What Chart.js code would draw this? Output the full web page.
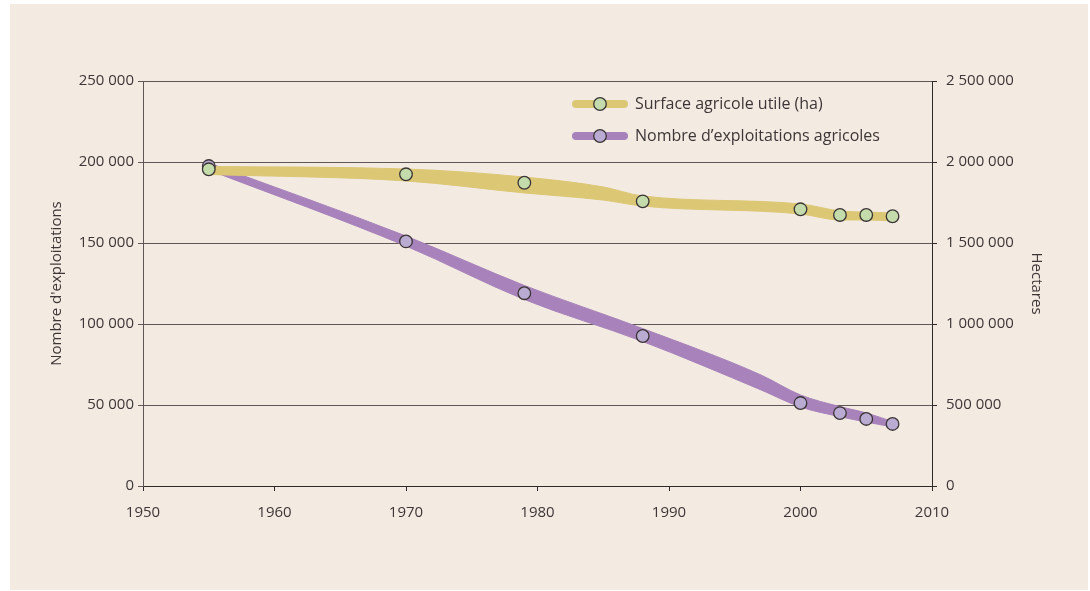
<!DOCTYPE html>
<html lang="fr">
<head>
<meta charset="utf-8">
<title>Exploitations agricoles et surface agricole utile</title>
<script src="https://cdn.jsdelivr.net/npm/chart.js@4/dist/chart.umd.min.js"></script>
<style>
  html, body { margin: 0; padding: 0; background: #ffffff; }
  #wrap { width: 1090px; height: 591px; }
</style>
</head>
<body>
<div id="wrap"><canvas id="c" width="1090" height="591"></canvas></div>
<script>
// Années de recensement
const years = [1955, 1970, 1979, 1988, 2000, 2003, 2005, 2007];
// Nombre d'exploitations agricoles (axe de gauche)
const exploitations = [197500, 151000, 119000, 92600, 51200, 45000, 41400, 38300];
// Surface agricole utile en hectares (axe de droite)
const surfaceHa = [1955000, 1924000, 1872000, 1757000, 1708000, 1673000, 1673000, 1665000];

// Bandes de tendance (bords haut et bas) tracées sous les points
const surfaceBandYears = [1955, 1970, 1979, 1985, 1988, 2000, 2003, 2005, 2007];
const surfaceBandTop = [1972000, 1957000, 1907000, 1846000, 1790000, 1741000, 1698000, 1691000, 1685000];
const surfaceBandBottom = [1923000, 1883000, 1809000, 1765000, 1728000, 1679000, 1642000, 1642000, 1636000];

const exploitBandYears = [1955, 1970, 1979, 1988, 1997, 2000, 2003, 2005, 2007];
const exploitBandTop = [199400, 154300, 123800, 97200, 68500, 56200, 49000, 45100, 39800];
const exploitBandBottom = [195100, 148100, 115100, 89200, 59300, 48800, 42800, 39500, 36400];

// Graduations
const xTicks = [1950, 1960, 1970, 1980, 1990, 2000, 2010];
const leftTicks = [0, 50000, 100000, 150000, 200000, 250000];
const rightTicks = [0, 500000, 1000000, 1500000, 2000000, 2500000];

const labels = {
  surface: 'Surface agricole utile (ha)',
  exploit: 'Nombre d\u2019exploitations agricoles',
  leftTitle: 'Nombre d\'exploitations',
  rightTitle: 'Hectares'
};

const COL = {
  yellow: '#dcc774',
  purple: '#a883bb',
  green: '#c4dcab',
  lilac: '#b9abd1',
  stroke: '#3a3434',
  text: '#3d3636',
  grid: '#5f5755',
  axis: '#2f2a2a',
  bg: '#f3ebe2'
};

const FONT = '"Open Sans", "Noto Sans", sans-serif';
const frNumber = v => String(v).replace(/\B(?=(\d{3})+(?!\d))/g, ' ');
const pairs = (xs, ys) => xs.map((x, i) => ({ x: x, y: ys[i] }));

const bandEdge = (data, axis, color, fillPrev, order) => ({
  type: 'line',
  data: data,
  yAxisID: axis,
  borderColor: color,
  borderWidth: 1,
  backgroundColor: color,
  pointRadius: 0,
  cubicInterpolationMode: 'monotone',
  fill: fillPrev ? '-1' : false,
  order: order
});

const markers = (data, axis, fill, order) => ({
  type: 'line',
  data: data,
  yAxisID: axis,
  showLine: false,
  pointRadius: 6.3,
  pointBorderWidth: 1.3,
  pointBackgroundColor: fill,
  pointBorderColor: COL.stroke,
  order: order
});

// Fond de la page et cartouche beige
const backdrop = {
  id: 'backdrop',
  beforeDraw(chart) {
    const ctx = chart.ctx;
    ctx.save();
    ctx.fillStyle = '#ffffff';
    ctx.fillRect(0, 0, chart.width, chart.height);
    ctx.fillStyle = COL.bg;
    ctx.fillRect(10, 4, 1078, 586);
    ctx.restore();
  }
};

// Légende : trait épais + pastille, dans le coin haut droit
const legendBox = {
  id: 'legendBox',
  afterDraw(chart) {
    const ctx = chart.ctx;
    const items = [
      { y: 104, line: COL.yellow, dot: COL.green, text: labels.surface },
      { y: 136, line: COL.purple, dot: COL.lilac, text: labels.exploit }
    ];
    ctx.save();
    items.forEach(it => {
      ctx.lineCap = 'round';
      ctx.lineWidth = 8;
      ctx.strokeStyle = it.line;
      ctx.beginPath();
      ctx.moveTo(576, it.y);
      ctx.lineTo(624, it.y);
      ctx.stroke();
      ctx.beginPath();
      ctx.arc(600, it.y, 6.3, 0, Math.PI * 2);
      ctx.fillStyle = it.dot;
      ctx.fill();
      ctx.lineWidth = 1.3;
      ctx.strokeStyle = COL.stroke;
      ctx.stroke();
      ctx.fillStyle = COL.text;
      ctx.font = '16px ' + FONT;
      ctx.textBaseline = 'middle';
      ctx.textAlign = 'left';
      ctx.fillText(it.text, 635, it.y);
    });
    ctx.restore();
  }
};

new Chart(document.getElementById('c'), {
  type: 'line',
  data: {
    datasets: [
      bandEdge(pairs(exploitBandYears, exploitBandTop), 'y', COL.purple, false, 6),
      bandEdge(pairs(exploitBandYears, exploitBandBottom), 'y', COL.purple, true, 5),
      bandEdge(pairs(surfaceBandYears, surfaceBandTop), 'y1', COL.yellow, false, 4),
      bandEdge(pairs(surfaceBandYears, surfaceBandBottom), 'y1', COL.yellow, true, 3),
      markers(pairs(years, exploitations), 'y', COL.lilac, 2),
      markers(pairs(years, surfaceHa), 'y1', COL.green, 1)
    ]
  },
  options: {
    responsive: false,
    devicePixelRatio: 1,
    animation: false,
    events: [],
    layout: { padding: { top: 81, left: 0, right: 0, bottom: 0 } },
    plugins: {
      legend: { display: false },
      tooltip: { enabled: false },
      filler: { propagate: false }
    },
    scales: {
      x: {
        type: 'linear',
        min: xTicks[0],
        max: xTicks[xTicks.length - 1],
        afterBuildTicks: s => { s.ticks = xTicks.map(v => ({ value: v })); },
        afterFit: s => { s.height = 105; },
        ticks: {
          callback: v => String(v),
          color: COL.text,
          font: { family: FONT, size: 15 },
          padding: 13,
          maxRotation: 0,
          autoSkip: false
        },
        grid: { drawOnChartArea: false, drawTicks: true, tickLength: 5, color: COL.axis, lineWidth: 1 },
        border: { display: true, color: COL.axis, width: 1 }
      },
      y: {
        position: 'left',
        min: leftTicks[0],
        max: leftTicks[leftTicks.length - 1],
        afterBuildTicks: s => { s.ticks = leftTicks.map(v => ({ value: v })); },
        afterFit: s => { s.width = 143; },
        ticks: {
          callback: v => frNumber(v),
          color: COL.text,
          font: { family: FONT, size: 15 },
          padding: 4
        },
        grid: { color: COL.grid, lineWidth: 1, tickLength: 5 },
        border: { display: true, color: COL.grid, width: 1 },
        title: {
          display: true,
          text: labels.leftTitle,
          color: COL.text,
          font: { family: FONT, size: 15 },
          padding: { top: 48, bottom: 0 }
        }
      },
      y1: {
        position: 'right',
        min: rightTicks[0],
        max: rightTicks[rightTicks.length - 1],
        afterBuildTicks: s => { s.ticks = rightTicks.map(v => ({ value: v })); },
        afterFit: s => { s.width = 158; },
        ticks: {
          callback: v => frNumber(v),
          color: COL.text,
          font: { family: FONT, size: 15 },
          padding: 9
        },
        grid: { drawOnChartArea: false, color: COL.axis, lineWidth: 1, tickLength: 5 },
        border: { display: true, color: COL.axis, width: 1 },
        title: {
          display: true,
          text: labels.rightTitle,
          color: COL.text,
          font: { family: FONT, size: 15 },
          padding: { top: 45, bottom: 0 }
        }
      }
    }
  },
  plugins: [backdrop, legendBox]
});
</script>
</body>
</html>
